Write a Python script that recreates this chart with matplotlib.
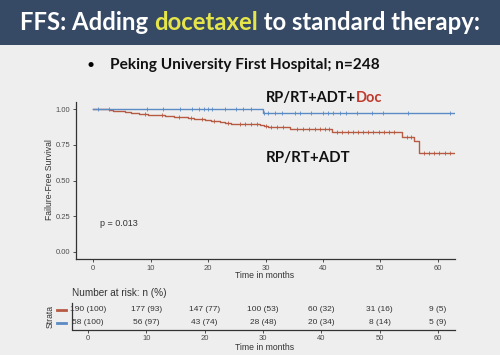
"""Kaplan-Meier slide: failure-free survival, docetaxel vs standard therapy."""
import matplotlib
matplotlib.use("Agg")
import numpy as np
import matplotlib.pyplot as plt
from matplotlib.lines import Line2D
from matplotlib.patches import Rectangle

W, H = 500, 355
BG = "#eeeeee"
HEADER = "#364a66"
RED = "#b75a43"
BLUE = "#5b8bc4"
INK = "#333333"
SLIDE_FONT = ["Lato", "DejaVu Sans"]
PLOT_FONT = ["Liberation Sans", "DejaVu Sans"]

# RP/RT+ADT: step times (months) and survival after each step
adt_times = [0, 2.8, 3.5, 4.5, 5.5, 6.5, 8.0, 9.5, 11.5, 12.5, 14.0, 16.5,
             17.5, 18.5, 19.5, 20.5, 22.0, 23.0, 24.0, 29.0, 29.8, 30.5,
             34.3, 41.6, 53.7, 55.9, 56.7]
adt_surv = [1.0, 0.995, 0.989, 0.984, 0.978, 0.973, 0.968, 0.962, 0.957,
            0.951, 0.946, 0.940, 0.934, 0.928, 0.921, 0.915, 0.909, 0.902,
            0.896, 0.889, 0.882, 0.872, 0.862, 0.843, 0.808, 0.776, 0.696]
adt_end = 63.0
adt_censor = [9.0, 12.0, 15.0, 17.0, 19.0, 21.0, 23.5, 25.5, 26.5, 27.5,
              28.5, 30.0, 31.0, 32.0, 33.0, 35.5, 36.5, 37.5, 38.6, 39.5,
              40.4, 41.0, 42.5, 43.4, 44.3, 45.2, 46.1, 47.0, 47.9, 48.8,
              49.7, 50.6, 51.5, 52.4, 54.6, 55.3, 57.6, 58.5, 59.4, 60.3,
              61.2, 62.2]

# RP/RT+ADT+Doc
doc_times = [0, 29.5]
doc_surv = [1.0, 0.972]
doc_end = 63.0
doc_censor = [0.8, 2.7, 9.3, 12.1, 15.1, 17.2, 18.5, 19.3, 20.0, 20.7, 23.0,
              24.8, 26.0, 27.5, 29.8, 30.5, 31.7, 32.8, 35.1, 36.0, 38.0,
              40.0, 40.9, 41.8, 43.0, 44.1, 45.9, 48.5, 50.5, 54.9, 62.1]

# number at risk table
risk_times = [0, 10, 20, 30, 40, 50, 60]
adt_n = [190, 177, 147, 100, 60, 31, 9]
adt_pct = [100, 93, 77, 53, 32, 16, 5]
doc_n = [58, 56, 43, 28, 20, 8, 5]
doc_pct = [100, 97, 74, 48, 34, 14, 9]

x_ticks = [0, 10, 20, 30, 40, 50, 60]
y_ticks = [0.0, 0.25, 0.5, 0.75, 1.0]


def box(left, top, right, bottom):
    """Pixel box -> figure fraction rect."""
    return [left / W, 1 - bottom / H, (right - left) / W, (bottom - top) / H]


def fx(x):
    return x / W


def fy(y):
    return 1 - y / H


def step_value(times, surv, t):
    i = np.searchsorted(times, t, side="right") - 1
    return np.asarray(surv)[i]


def style_axis(ax):
    for side in ("top", "right"):
        ax.spines[side].set_visible(False)
    for side in ("left", "bottom"):
        ax.spines[side].set_color(INK)
        ax.spines[side].set_linewidth(0.9)
    ax.set_facecolor("none")
    ax.tick_params(length=2.5, width=0.6, color=INK, labelsize=5.5,
                   labelcolor="#4d4d4d", pad=1.5)
    for lab in ax.get_xticklabels() + ax.get_yticklabels():
        lab.set_family(PLOT_FONT)


def rich_text(fig, parts, x, y, width, size=12, anchor="left"):
    """Bold slide text in coloured pieces, sized to span `width` px."""
    texts = [fig.text(0, fy(y), s, color=c, fontsize=size, weight="bold",
                      family=SLIDE_FONT, va="center", ha="left")
             for s, c in parts]
    fig.canvas.draw()
    r = fig.canvas.get_renderer()
    total = sum(t.get_window_extent(r).width for t in texts)
    for t in texts:
        t.set_fontsize(size * width / total)
    fig.canvas.draw()
    widths = [t.get_window_extent(r).width for t in texts]
    x0 = x - sum(widths) / 2 if anchor == "center" else x
    for t, w in zip(texts, widths):
        t.set_x(fx(x0))
        x0 += w
    return texts


def render(out_path):
    fig = plt.figure(figsize=(W / 100, H / 100), dpi=100, facecolor=BG)

    # slide header
    fig.add_artist(Rectangle((0, fy(45)), 1, 45 / H, transform=fig.transFigure,
                             facecolor=HEADER, edgecolor="none"))
    rich_text(fig, [("FFS: Adding ", "white"), ("docetaxel", "#e6e64a"),
                    (" to standard therapy:", "white")], 250, 23, 456,
              anchor="center")
    fig.text(fx(91), fy(65), "\u2022", fontsize=10, color="black",
             ha="center", va="center", family=SLIDE_FONT)
    rich_text(fig, [("Peking University First Hospital; n=248", "#111111")],
              110, 65, 268)

    # survival curves
    ax = fig.add_axes(box(76, 102, 455, 259))
    for times, surv, end, cens, color in (
            (adt_times, adt_surv, adt_end, adt_censor, RED),
            (doc_times, doc_surv, doc_end, doc_censor, BLUE)):
        ax.step(list(times) + [end], list(surv) + [surv[-1]], where="post",
                color=color, linewidth=1.0)
        ax.plot(cens, step_value(times, surv, cens), linestyle="none",
                marker="|", markersize=3.5, markeredgewidth=0.6, color=color)
    ax.set_xlim(-3, 63)
    ax.set_ylim(-0.05, 1.05)
    ax.set_xticks(x_ticks)
    ax.set_yticks(y_ticks)
    ax.set_yticklabels([f"{v:.2f}" for v in y_ticks])
    style_axis(ax)
    ax.text(1.2, 0.2, "p = 0.013", fontsize=6.5, color=INK, ha="left",
            va="center", family=PLOT_FONT)
    fig.text(fx(50), fy(180), "Failure-Free Survival", rotation=90,
             fontsize=6.2, color=INK, ha="center", va="center",
             family=PLOT_FONT)
    fig.text(fx(265), fy(276), "Time in months", fontsize=6.2, color=INK,
             ha="center", va="center", family=PLOT_FONT)

    rich_text(fig, [("RP/RT+ADT+", "#111111"), ("Doc", "#c0392b")],
              266, 98, 117)
    rich_text(fig, [("RP/RT+ADT", "#111111")], 266, 158, 84)

    # number at risk table
    fig.text(fx(72), fy(293), "Number at risk: n (%)", fontsize=7.2,
             color=INK, ha="left", va="center", family=PLOT_FONT)
    tab = fig.add_axes(box(72, 303, 455, 329.5))
    for row, ns, pcts in ((2, adt_n, adt_pct), (1, doc_n, doc_pct)):
        for t, n, p in zip(risk_times, ns, pcts):
            tab.text(t, row, f"{n} ({p})", fontsize=6, color=INK,
                     ha="center", va="center", family=PLOT_FONT)
    tab.set_xlim(-2.74, 62.9)
    tab.set_ylim(0.46, 2.55)
    tab.set_xticks(x_ticks)
    tab.set_yticks([])
    style_axis(tab)
    for y, color in ((310, RED), (323, BLUE)):
        fig.add_artist(Line2D([fx(57), fx(66)], [fy(y), fy(y)],
                              transform=fig.transFigure, color=color,
                              linewidth=2.0))
    fig.text(fx(50), fy(316), "Strata", rotation=90, fontsize=6.2,
             color=INK, ha="center", va="center", family=PLOT_FONT)
    fig.text(fx(265), fy(347), "Time in months", fontsize=6.2, color=INK,
             ha="center", va="center", family=PLOT_FONT)

    fig.savefig(out_path, dpi=100, facecolor=BG)
    plt.close(fig)
    return out_path


if __name__ == "__main__":
    print(f"wrote {render('out.png')}")
